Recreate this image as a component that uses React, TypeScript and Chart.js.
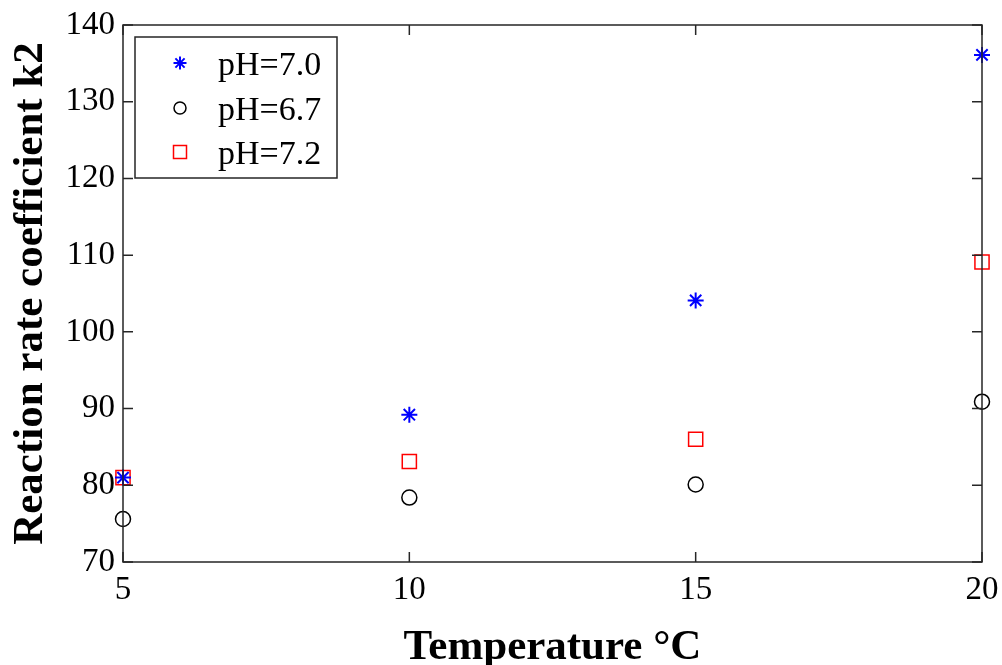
import React, { useEffect, useRef } from "react";
import { Chart, registerables } from "chart.js";
Chart.register(...registerables);

const temperatures = [5, 10, 15, 20];
const ph70 = [81, 89.2, 104.1, 136.1];
const ph67 = [75.6, 78.4, 80.1, 90.9];
const ph72 = [81, 83.1, 86, 109.1];
const seriesLabels = ["pH=7.0", "pH=6.7", "pH=7.2"];
const xTicks = [5, 10, 15, 20];
const yTicks = [70, 80, 90, 100, 110, 120, 130, 140];
const xTitle = "Temperature \u00B0C";
const yTitle = "Reaction rate coefficient k2";

const SERIF = '"Liberation Serif", "Times New Roman", serif';
const AXIS_COLOR = "#262626";

const framePlugin = {
  id: "matlabFrame",
  afterDatasetsDraw(chart: any) {
    const { ctx, chartArea } = chart;
    const { left, right, top, bottom } = chartArea;
    const xs = chart.scales.x;
    const ys = chart.scales.y;
    const tl = 10;
    ctx.save();
    ctx.strokeStyle = AXIS_COLOR;
    ctx.lineWidth = 1.5;
    ctx.beginPath();
    ctx.rect(left, top, right - left, bottom - top);
    ctx.stroke();
    ctx.beginPath();
    for (const v of xTicks) {
      const px = xs.getPixelForValue(v);
      ctx.moveTo(px, bottom);
      ctx.lineTo(px, bottom - tl);
      ctx.moveTo(px, top);
      ctx.lineTo(px, top + tl);
    }
    for (const v of yTicks) {
      const py = ys.getPixelForValue(v);
      ctx.moveTo(left, py);
      ctx.lineTo(left + tl, py);
      ctx.moveTo(right, py);
      ctx.lineTo(right - tl, py);
    }
    ctx.stroke();

    // legend box
    const lx = 135, ly = 37, lw = 202, lh = 141;
    ctx.fillStyle = "#ffffff";
    ctx.fillRect(lx, ly, lw, lh);
    ctx.strokeStyle = AXIS_COLOR;
    ctx.lineWidth = 1.5;
    ctx.strokeRect(lx, ly, lw, lh);
    const mx = 180;
    const rows = [63, 108, 152];
    // star
    ctx.strokeStyle = "#0000ff";
    ctx.lineWidth = 2;
    ctx.beginPath();
    const r = 6.5;
    const d = r * Math.SQRT1_2;
    ctx.moveTo(mx - r, rows[0]); ctx.lineTo(mx + r, rows[0]);
    ctx.moveTo(mx, rows[0] - r); ctx.lineTo(mx, rows[0] + r);
    ctx.moveTo(mx - d, rows[0] - d); ctx.lineTo(mx + d, rows[0] + d);
    ctx.moveTo(mx - d, rows[0] + d); ctx.lineTo(mx + d, rows[0] - d);
    ctx.stroke();
    ctx.lineWidth = 1.5;
    // circle
    ctx.strokeStyle = "#000000";
    ctx.beginPath();
    ctx.arc(mx, rows[1], 6, 0, Math.PI * 2);
    ctx.stroke();
    // square
    ctx.strokeStyle = "#ff0000";
    ctx.strokeRect(mx - 6.5, rows[2] - 6.5, 13, 13);

    ctx.fillStyle = "#000000";
    ctx.font = `34px ${SERIF}`;
    ctx.textAlign = "left";
    ctx.textBaseline = "alphabetic";
    seriesLabels.forEach((s, i) => {
      ctx.fillText(s, 218, rows[i] + 12);
    });
    ctx.restore();
  },
};

export default function App() {
  const ref = useRef<HTMLCanvasElement | null>(null);
  useEffect(() => {
    document.body.style.margin = "0";
    const canvas = ref.current!;
    const mk = (vals: number[]) => temperatures.map((t, i) => ({ x: t, y: vals[i] }));
    const chart = new Chart(canvas, {
      type: "scatter",
      data: {
        datasets: [
          {
            label: seriesLabels[0],
            data: mk(ph70),
            pointStyle: "star",
            pointRadius: 8,
            borderColor: "#0000ff",
            backgroundColor: "#0000ff",
            pointBorderWidth: 2,
            clip: false,
          } as any,
          {
            label: seriesLabels[1],
            data: mk(ph67),
            pointStyle: "circle",
            pointRadius: 7.5,
            borderColor: "#000000",
            backgroundColor: "rgba(0,0,0,0)",
            pointBorderWidth: 1.5,
            clip: false,
          } as any,
          {
            label: seriesLabels[2],
            data: mk(ph72),
            pointStyle: "rect",
            pointRadius: 10,
            borderColor: "#ff0000",
            backgroundColor: "rgba(0,0,0,0)",
            pointBorderWidth: 1.5,
            clip: false,
          } as any,
        ],
      },
      options: {
        responsive: false,
        animation: false,
        devicePixelRatio: 1,
        layout: { padding: { left: 0, top: 25, right: 20, bottom: 0 } },
        plugins: { legend: { display: false }, tooltip: { enabled: false } },
        scales: {
          x: {
            type: "linear",
            min: 5,
            max: 20,
            afterFit: (s: any) => { s.height = 103; s.paddingLeft = 0; s.paddingRight = 0; },
            afterBuildTicks: (s: any) => { s.ticks = xTicks.map((v) => ({ value: v })); },
            grid: { display: false, drawTicks: false },
            border: { display: false },
            ticks: { color: "#000", font: { family: SERIF, size: 33 }, padding: 9, maxRotation: 0 },
            title: {
              display: true,
              text: xTitle,
              color: "#000",
              font: { family: SERIF, size: 43, weight: "bold" },
              padding: { top: 0, bottom: -9 },
            },
          },
          y: {
            type: "linear",
            min: 70,
            max: 140,
            afterFit: (s: any) => { s.width = 123; s.paddingTop = 0; s.paddingBottom = 0; },
            afterBuildTicks: (s: any) => { s.ticks = yTicks.map((v) => ({ value: v })); },
            grid: { display: false, drawTicks: false },
            border: { display: false },
            ticks: { color: "#000", font: { family: SERIF, size: 33 }, padding: 8 },
            title: {
              display: true,
              text: yTitle,
              color: "#000",
              font: { family: SERIF, size: 43, weight: "bold" },
              padding: { top: 5, bottom: 0 },
            },
          },
        },
      } as any,
      plugins: [framePlugin],
    });
    return () => chart.destroy();
  }, []);
  return (
    <div style={{ position: "absolute", left: 0, top: 0, width: 1002, height: 665, background: "#fff" }}>
      <canvas ref={ref} width={1002} height={665} style={{ width: 1002, height: 665, display: "block" }} />
    </div>
  );
}
